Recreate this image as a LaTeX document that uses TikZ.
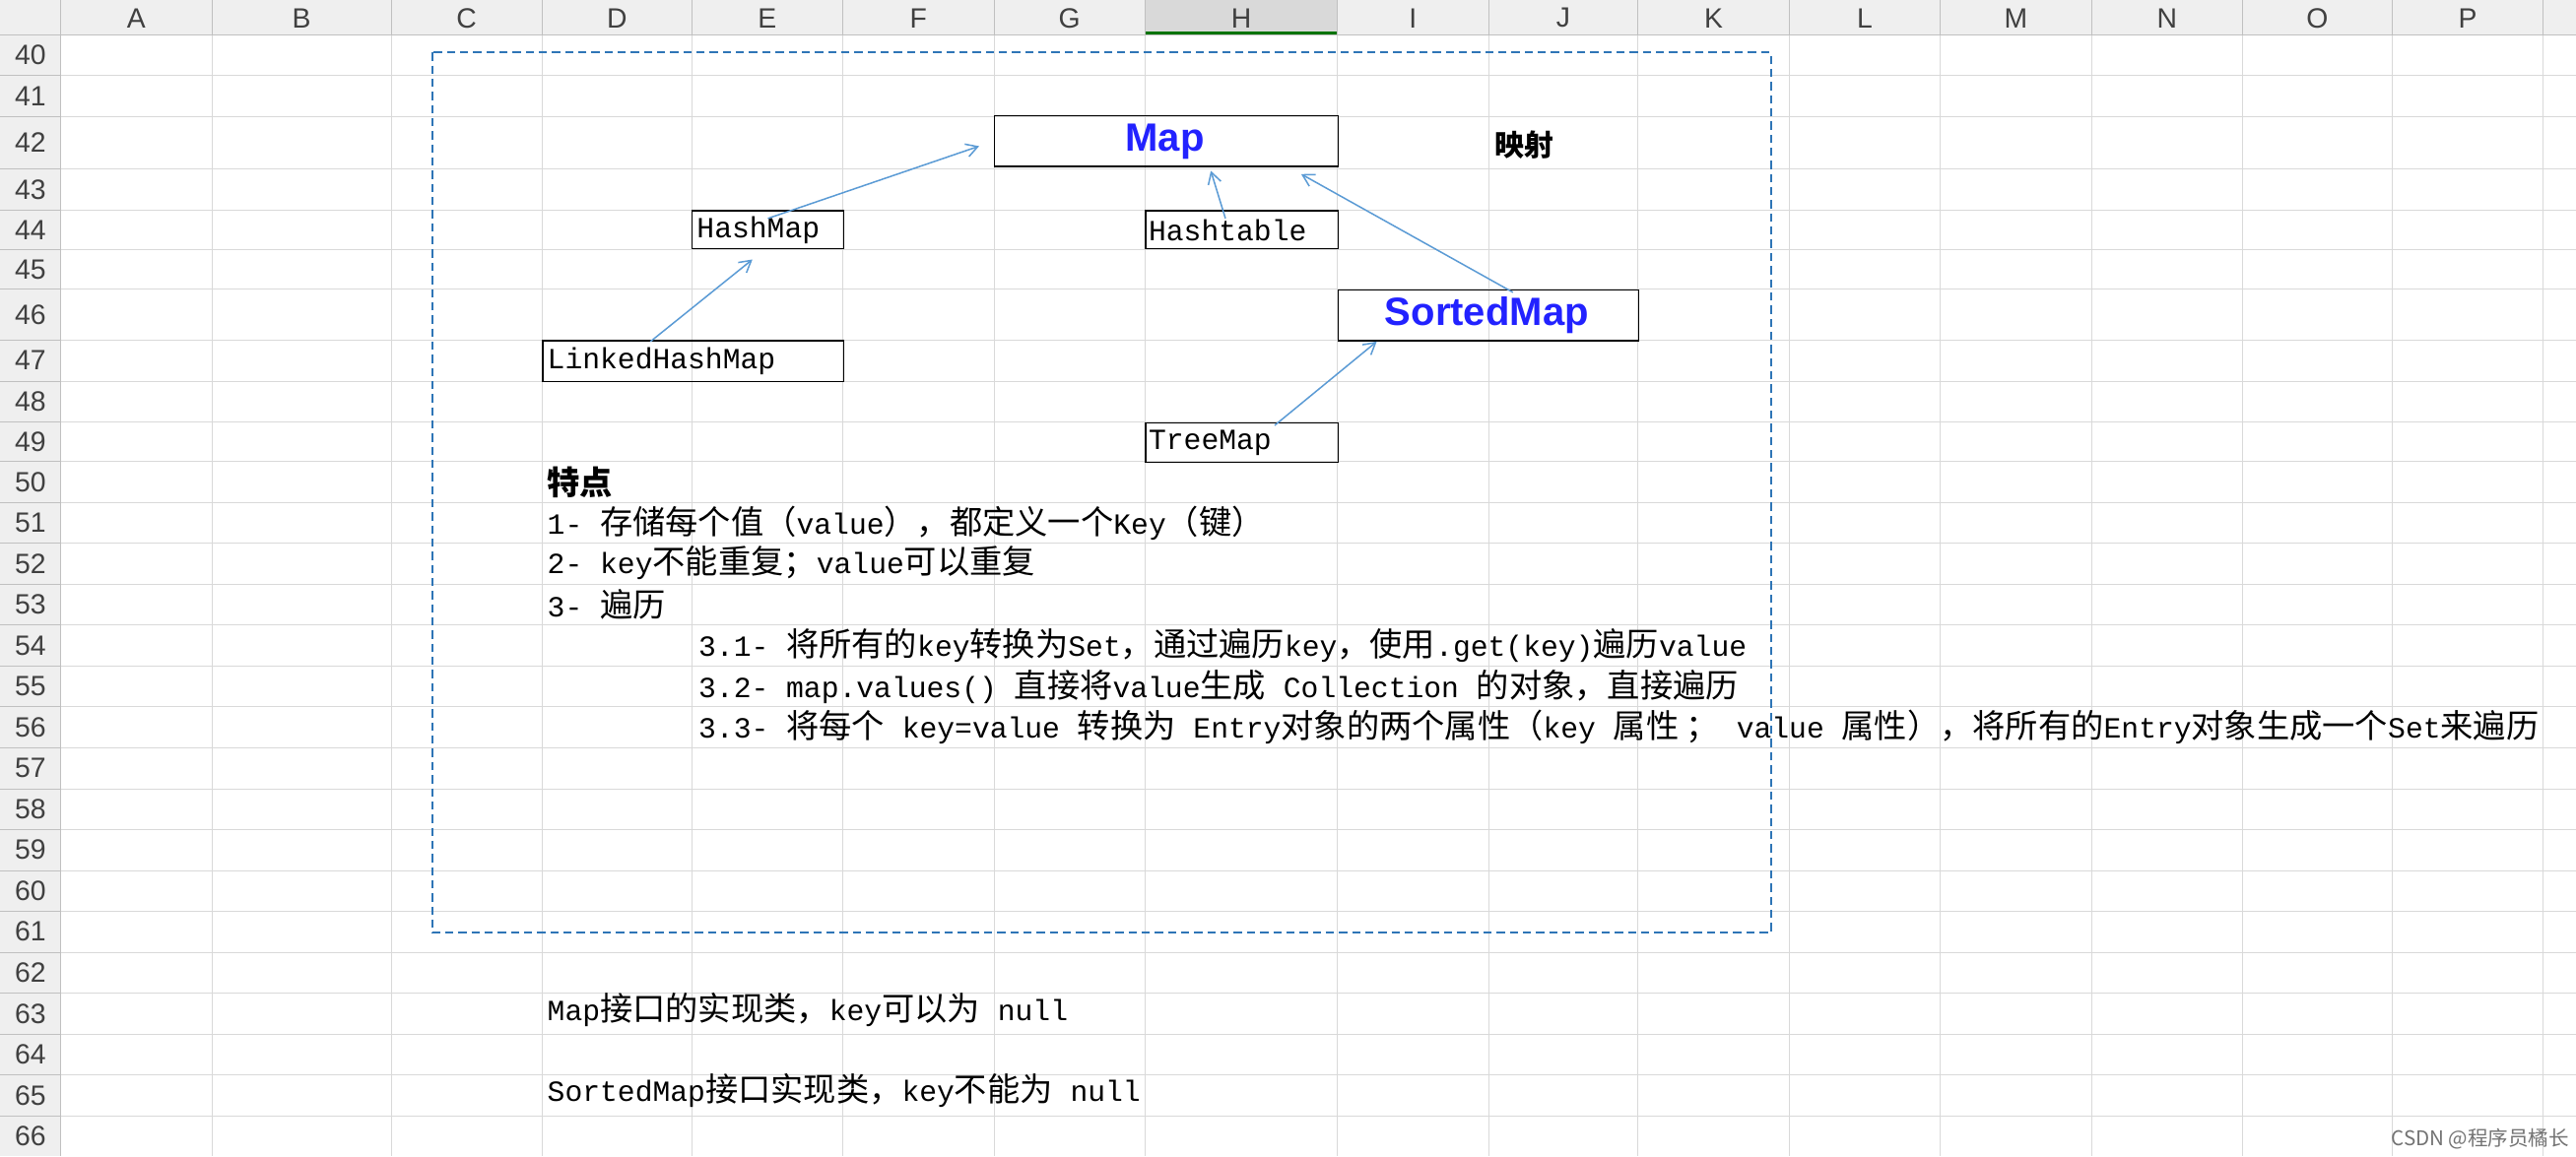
\documentclass[tikz,border=0pt]{standalone}
\usepackage{fontspec}
\setmainfont{Liberation Mono}
\newfontfamily\cjk[Scale=1.12]{Noto Sans CJK SC}
\newfontfamily\hdr{Liberation Sans}
\usetikzlibrary{arrows.meta}
\definecolor{gridc}{HTML}{D9D9D9}
\definecolor{hdrbg}{HTML}{EFEFEF}
\definecolor{hdrline}{HTML}{C0C0C0}
\definecolor{arr}{HTML}{5B9BD5}
\definecolor{framec}{HTML}{2E75B6}
\definecolor{bluet}{HTML}{2222FF}
\tikzset{
  box/.style={draw=black,line width=0.8pt,inner sep=0pt,anchor=north west},
  cell/.style={anchor=west,inner sep=0pt,font=\fontsize{17.8}{20}\selectfont},
  big/.style={font=\hdr\bfseries\fontsize{24}{26}\selectfont,text=bluet,inner sep=0pt},
  ar/.style={draw=arr,line width=0.9pt,-{Straight Barb[length=7pt,width=8pt]}},
  hd/.style={font=\hdr\fontsize{17}{18}\selectfont,text=black!75,inner sep=0pt}
}
\begin{document}
\begin{tikzpicture}[x=1pt,y=-1pt]
\useasboundingbox (0,0) rectangle (1568,704);
\fill[white] (0,0) rectangle (1568,704);
% header backgrounds
\fill[hdrbg] (0,0) rectangle (1568,21);
\fill[hdrbg] (0,21) rectangle (37,704);
\fill[black!15] (697,0) rectangle (814,21);
\draw[green!45!black,line width=2pt] (697,20) -- (814,20);
% column boundaries
\foreach \x in {129,238,330,421,513,605,697,814,906,997,1089,1181,1273,1365,1456,1548}{
  \draw[gridc] (\x,21) -- (\x,704);
  \draw[hdrline] (\x,0) -- (\x,21);
}
\draw[hdrline] (37,0) -- (37,704);
\draw[hdrline] (0,21) -- (1568,21);
% row boundaries
\foreach \y in {46,71,103,128,152,176,207,232,257,281}{
  \draw[gridc] (37,\y) -- (1568,\y);
  \draw[hdrline] (0,\y) -- (37,\y);
}
\foreach \k in {1,...,16}{
  \pgfmathsetmacro\yy{281+24.9*\k}
  \draw[gridc] (37,\yy) -- (1568,\yy);
  \draw[hdrline] (0,\yy) -- (37,\yy);
}
% column letters
\foreach \c/\x in {A/83,B/183.5,C/284,D/375.5,E/467,F/559,G/651,H/755.5,I/860,J/951.5,K/1043,L/1135,M/1227,N/1319,O/1410.5,P/1502}{
  \node[hd] (col\c) at (\x,11) {\c};
}
% row numbers
\foreach \r/\y in {40/33.5,41/58.5,42/87,43/115.5,44/140,45/164,46/191.5,47/219.5,48/244.5,49/269}{
  \node[hd] (row\r) at (18.5,\y) {\r};
}
\foreach \k in {0,...,16}{
  \pgfmathsetmacro\yy{281+24.9*(\k+0.5)}
  \pgfmathtruncatemacro\rr{50+\k}
  \node[hd] (row\rr) at (18.5,\yy) {\rr};
}
% dashed frame
\draw[framec,line width=1.2pt,dash pattern=on 5pt off 3pt] (263,32) rectangle (1078,568);
% boxes
\node[box,minimum width=209pt,minimum height=31pt] (map) at (605,70) {};
\node[big] (maptxt) at (709,86) {Map};
\node[box,minimum width=92pt,minimum height=23pt] (hm) at (421,128) {};
\node[cell] (hmtxt) at (424,140) {HashMap};
\node[box,minimum width=117pt,minimum height=23pt] (ht) at (697,128) {};
\node[cell] (httxt) at (699,140) {Hashtable};
\node[box,minimum width=183pt,minimum height=31pt] (sm) at (814,176) {};
\node[big] (smtxt) at (905,192) {SortedMap};
\node[box,minimum width=183pt,minimum height=25pt] (lhm) at (330,207) {};
\node[cell] (lhmtxt) at (333,220) {LinkedHashMap};
\node[box,minimum width=117pt,minimum height=24pt] (tm) at (697,257) {};
\node[cell] (tmtxt) at (699,270) {TreeMap};
\node[inner sep=0pt,font=\cjk\bfseries\fontsize{16}{18}\selectfont] (ys) at (928,88) {映射};
% arrows
\coordinate (a1e) at (596,89);
\coordinate (a2e) at (737,104);
\coordinate (a3e) at (792,106);
\coordinate (a4e) at (458,158);
\coordinate (a5e) at (838,208);
\draw[ar] ([yshift=-5pt]hm.north) -- (a1e);
\draw[ar] ([xshift=-10pt,yshift=-5pt]ht.north) -- (a2e);
\draw[ar] ([xshift=15pt,yshift=-2pt]sm.north) -- (a3e);
\draw[ar] ([xshift=-26pt,yshift=-1pt]lhm.north) -- (a4e);
\draw[ar] ([xshift=20pt,yshift=-2pt]tm.north) -- (a5e);
% text
\node[cell] (t50) at (333,294) {{\cjk\bfseries 特点}};
\node[cell] (t51) at (333,318.5) {1- {\cjk 存储每个值（}value{\cjk ），都定义一个}Key{\cjk （键）}};
\node[cell] (t52) at (333,343) {2- key{\cjk 不能重复；}value{\cjk 可以重复}};
\node[cell] (t53) at (333,368) {3- {\cjk 遍历}};
\node[cell] (t54) at (425,393) {3.1- {\cjk 将所有的}key{\cjk 转换为}Set{\cjk ，通过遍历}key{\cjk ，使用}.get(key){\cjk 遍历}value};
\node[cell] (t55) at (425,418) {3.2- map.values() {\cjk 直接将}value{\cjk 生成} Collection {\cjk 的对象，直接遍历}};
\node[cell] (t56) at (425,443) {3.3- {\cjk 将每个} key=value {\cjk 转换为}  Entry{\cjk 对象的两个属性（}key {\cjk 属性 ；} value {\cjk 属性），将所有的}Entry{\cjk 对象生成一个}Set{\cjk 来遍历}};
\node[cell] (t63) at (333,615) {Map{\cjk 接口的实现类，}key{\cjk 可以为} null};
\node[cell] (t65) at (333,664) {SortedMap{\cjk 接口实现类，}key{\cjk 不能为} null};
\node[anchor=south east,inner sep=2pt,font=\cjk\fontsize{11}{12}\selectfont,text=black!55] (csdn) at (1566,702) {CSDN @程序员橘长};
\end{tikzpicture}
\end{document}
